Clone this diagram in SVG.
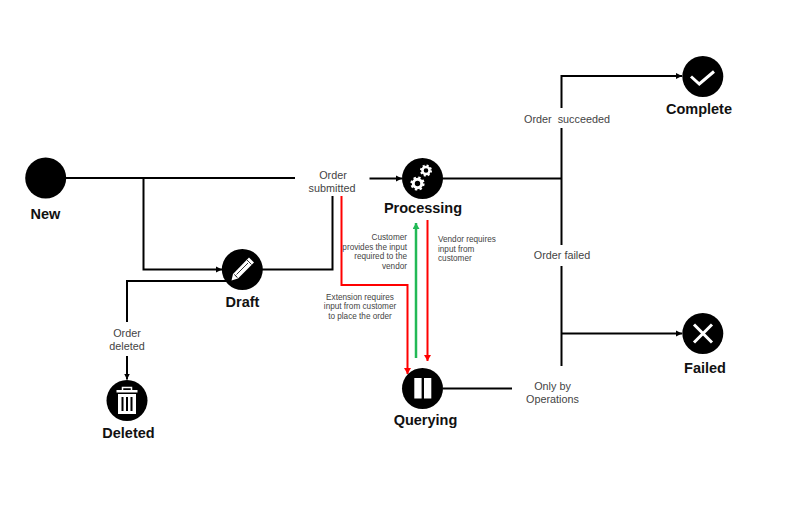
<svg xmlns="http://www.w3.org/2000/svg" width="808" height="510" viewBox="0 0 808 510">
<defs>
<marker id="ab" markerUnits="userSpaceOnUse" markerWidth="8" markerHeight="8" refX="6" refY="3.5" orient="auto"><path d="M0 0.5L6 3.5L0 6.5Z" fill="#000"/></marker>
<marker id="ar" markerUnits="userSpaceOnUse" markerWidth="8" markerHeight="8" refX="6" refY="3.5" orient="auto"><path d="M0 0L6 3.5L0 7Z" fill="#f00"/></marker>
<marker id="ag" markerUnits="userSpaceOnUse" markerWidth="8" markerHeight="8" refX="6" refY="3.5" orient="auto"><path d="M0 0L6 3.500L0 7Z" fill="#22b956"/></marker>
<g id="gear"><circle r="4.200" fill="none" stroke="#fff" stroke-width="3"/><circle r="6" fill="none" stroke="#fff" stroke-width="2.200" stroke-dasharray="2.400 2.310"/></g>
</defs>
<style>
text{font-family:"Liberation Sans",Arial,sans-serif;text-anchor:middle}
.t{font-size:14.5px;font-weight:700;fill:#111}
.l{font-size:10.8px;fill:#444;white-space:pre}
.s{font-size:8.2px;fill:#444}
.c{fill:none;stroke:#000;stroke-width:2}
.r{fill:none;stroke:#f00;stroke-width:2}
.g{fill:none;stroke:#22b956;stroke-width:2.500}
.n{fill:#000}
</style>
<rect width="808" height="510" fill="#fff"/>
<g id="connectors">
<path class="c" d="M66 178H295"/>
<path class="c" d="M143.500 178V269.500H222" marker-end="url(#ab)"/>
<path class="c" d="M262 269.500H332.500V196"/>
<path class="c" d="M369.500 178.500H402" marker-end="url(#ab)"/>
<path class="c" d="M228 281H127V322"/>
<path class="c" d="M127 356V379.500" marker-end="url(#ab)"/>
<path class="r" d="M341.500 196V285H407.500V374" marker-end="url(#ar)"/>
<path class="g" d="M416 358V223" marker-end="url(#ag)"/>
<path class="r" d="M427.500 220V361" marker-end="url(#ar)"/>
<path class="c" d="M442 178.500H561.500"/>
<path class="c" d="M561.500 108V76H682" marker-end="url(#ab)"/>
<path class="c" d="M561.500 128V245"/>
<path class="c" d="M561.500 266V366"/>
<path class="c" d="M561.500 333.500H682" marker-end="url(#ab)"/>
<path class="c" d="M443 388.500H512"/>
</g>
<g id="new"><circle class="n" cx="45.700" cy="178" r="20.500"/><text class="t" x="45.500" y="219">New</text></g>
<g id="draft"><circle class="n" cx="242.300" cy="269.500" r="20.500"/>
<path d="M231.500 280.500L233 274L249 257.500L254 262.500L238 278.500Z" fill="#fff"/><path d="M234.300 274.500L237.500 277.700" stroke="#000" stroke-width="1" fill="none"/><path d="M247 260L251.500 264.500M236.500 274.500L248 263" stroke="#000" stroke-width="0.800" fill="none"/>
<text class="t" x="242.500" y="307">Draft</text></g>
<g id="deleted"><circle class="n" cx="127" cy="400.500" r="20.500"/>
<path d="M116.500 390H137.500V392.500H116.500Z" fill="#fff"/><path d="M122.500 390V387.500H131.500V390" fill="none" stroke="#fff" stroke-width="1.500"/>
<path d="M118 394H136V414H118Z" fill="#fff"/>
<path d="M122.500 397V411M127 397V411M131.500 397V411" stroke="#000" stroke-width="2"/>
<text class="t" x="128.500" y="438">Deleted</text></g>
<g id="processing"><circle class="n" cx="422.500" cy="178.500" r="20.500"/>
<use href="#gear" x="417.500" y="183.500"/><use href="#gear" transform="translate(426 170.500) scale(.85)"/>
<text class="t" x="423" y="213">Processing</text></g>
<g id="querying"><circle class="n" cx="422.500" cy="388.500" r="20.500"/>
<rect x="414.300" y="378" width="7.300" height="20.500" fill="#fff"/><rect x="424" y="378" width="7.300" height="20.500" fill="#fff"/>
<text class="t" x="425.500" y="425">Querying</text></g>
<g id="complete"><circle class="n" cx="702.800" cy="76.500" r="20.500"/>
<path d="M691 76.500L699.300 84L714 71.500" fill="none" stroke="#fff" stroke-width="3"/>
<text class="t" x="699" y="114">Complete</text></g>
<g id="failed"><circle class="n" cx="702.800" cy="333.500" r="20.500"/>
<path d="M694 324.500L712 342.500M712 324.500L694 342.500" fill="none" stroke="#fff" stroke-width="3"/>
<text class="t" x="705" y="373">Failed</text></g>
<g id="labels">
<text class="l" x="333" y="179">Order</text><text class="l" x="332" y="192">submitted</text>
<text class="l" x="127" y="337">Order</text><text class="l" x="127" y="350">deleted</text>
<text class="l" x="567" y="123">Order  succeeded</text>
<text class="l" x="562" y="259">Order failed</text>
<text class="l" x="552.500" y="390">Only by</text><text class="l" x="552.500" y="403">Operations</text>
<text class="s" x="407" y="240" style="text-anchor:end">Customer</text>
<text class="s" x="407" y="249.500" style="text-anchor:end">provides the input</text>
<text class="s" x="407" y="259" style="text-anchor:end">required to the</text>
<text class="s" x="407" y="269" style="text-anchor:end">vendor</text>
<text class="s" x="438" y="242" style="text-anchor:start">Vendor requires</text>
<text class="s" x="438" y="251.500" style="text-anchor:start">input from</text>
<text class="s" x="438" y="261" style="text-anchor:start">customer</text>
<text class="s" x="360" y="299.500">Extension requires</text>
<text class="s" x="360" y="309">input from customer</text>
<text class="s" x="360" y="318.500">to place the order</text>
</g>
</svg>
